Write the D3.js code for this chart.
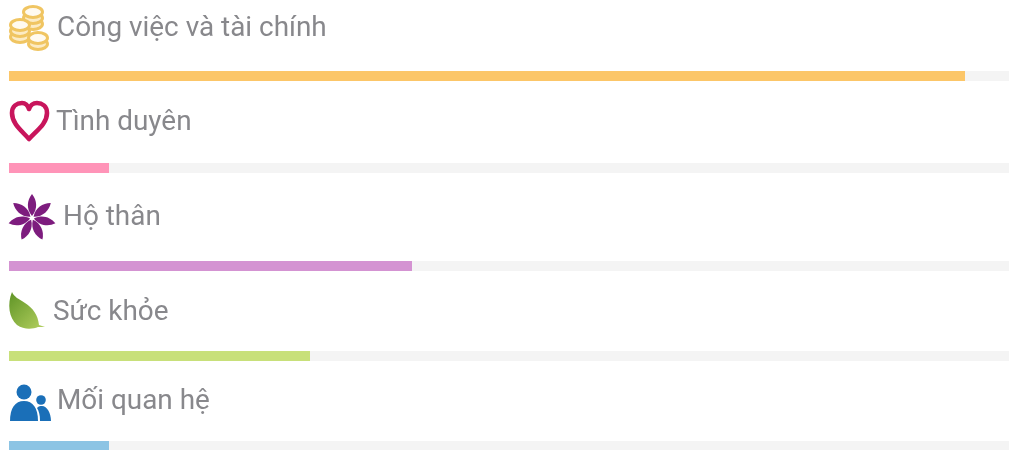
<!DOCTYPE html>
<html>
<head>
<meta charset="utf-8">
<script src="https://cdn.jsdelivr.net/npm/d3@7"></script>
<style>
  html, body { margin: 0; padding: 0; background: #fff; overflow: hidden; }
  #chart { filter: blur(0.45px); }
  .label { font-family: Roboto, sans-serif; font-size: 27.9px; fill: #88888c; }
</style>
</head>
<body>
<svg id="chart"></svg>
<script>
var categories = ["Công việc và tài chính", "Tình duyên", "Hộ thân", "Sức khỏe", "Mối quan hệ"];
var values = [95.6, 10, 40.3, 30.1, 10];
var colors = ["#fcc668", "#ff94b8", "#d493d2", "#c8e07a", "#8cc4e4"];

var svgWidth = 1009;
var svgHeight = 450;
var barHeight = 10;

var svg = d3.select("#chart")
  .attr("width", svgWidth)
  .attr("height", svgHeight)
  .style("display", "block");

// rows are not evenly spaced in the picture
var yBar = d3.scaleOrdinal().domain(categories).range([71, 163, 261, 351, 441]);
var xLabel = d3.scaleOrdinal().domain(categories).range([57, 56, 63, 53, 57]);
var yLabel = d3.scaleOrdinal().domain(categories).range([36, 130, 225, 320, 409]);
var xScale = d3.scaleLinear().domain([0, 100]).range([9, 1009]);

var rows = d3.zip(categories, values, colors);

// grey track
svg.selectAll(".track")
  .data(rows)
  .enter()
  .append("rect")
  .attr("class", "track")
  .attr("x", xScale(0))
  .attr("y", d => yBar(d[0]))
  .attr("width", xScale(100) - xScale(0) + 2)
  .attr("height", barHeight)
  .attr("fill", "#f4f4f4");

// filled part
svg.selectAll(".bar")
  .data(rows)
  .enter()
  .append("rect")
  .attr("class", "bar")
  .attr("x", xScale(0))
  .attr("y", d => yBar(d[0]))
  .attr("width", d => xScale(d[1]) - xScale(0))
  .attr("height", barHeight)
  .attr("fill", d => d[2]);

svg.selectAll(".label")
  .data(rows)
  .enter()
  .append("text")
  .attr("class", "label")
  .attr("x", d => xLabel(d[0]))
  .attr("y", d => yLabel(d[0]))
  .text(d => d[0]);

// icons
var defs = svg.append("defs");
var leafGrad = defs.append("linearGradient")
  .attr("id", "leafGrad")
  .attr("x1", "0%").attr("y1", "0%").attr("x2", "100%").attr("y2", "100%");
leafGrad.append("stop").attr("offset", "0%").attr("stop-color", "#5f9426");
leafGrad.append("stop").attr("offset", "100%").attr("stop-color", "#b4d060");

// coins
function coinStack(g, cx, top, n) {
  for (var i = n - 1; i >= 0; i--) {
    g.append("ellipse")
      .attr("cx", cx).attr("cy", top + i * 6)
      .attr("rx", 9.5).attr("ry", 5.5)
      .attr("fill", i == 0 ? "#fffaf0" : "#fcebc4")
      .attr("stroke", "#f0c562")
      .attr("stroke-width", 3);
  }
}
var coins = svg.append("g");
coinStack(coins, 33, 12, 3);
coinStack(coins, 20, 25, 3);
coinStack(coins, 38, 38, 2);

// heart
svg.append("path")
  .attr("d", "M29,139 C22,131 12,124 12,113 C12,106 17,103 22,103 C26,103 28,106 29,109 C30,106 33,103 37,103 C42,103 47,106 47,113 C47,124 36,131 29,139 Z")
  .attr("fill", "#fff")
  .attr("stroke", "#c8155c")
  .attr("stroke-width", 4.6)
  .attr("stroke-linejoin", "round");

// flower
svg.append("g")
  .attr("transform", "translate(32,218)")
  .selectAll("path")
  .data(d3.range(7))
  .enter()
  .append("path")
  .attr("transform", d => `rotate(${d * 360 / 7})`)
  .attr("d", "M0,-2 C-6,-9 -5,-18 0,-24 C5,-18 6,-9 0,-2 Z")
  .attr("fill", "#7d1c7e");

// leaf
svg.append("path")
  .attr("d", "M12,292 C7,304 9,318 17,325 C24,330 33,329 38,327 L45,327 L39,325 C38,315 33,308 25,303 C19,299 14,297 12,292 Z")
  .attr("fill", "url(#leafGrad)");

// people
var people = svg.append("g").attr("fill", "#1a6fb8");
people.append("circle").attr("cx", 24).attr("cy", 392).attr("r", 7.5);
people.append("path").attr("d", "M10,421 C10,408 15,401 24,401 C33,401 38,408 38,421 Z");
people.append("circle").attr("cx", 41).attr("cy", 400).attr("r", 4.8);
people.append("path").attr("d", "M40,421 C40,415 39,411 37,408 C39,406 40,406 42,406 C47,406 51,413 51,421 Z");
</script>
</body>
</html>
